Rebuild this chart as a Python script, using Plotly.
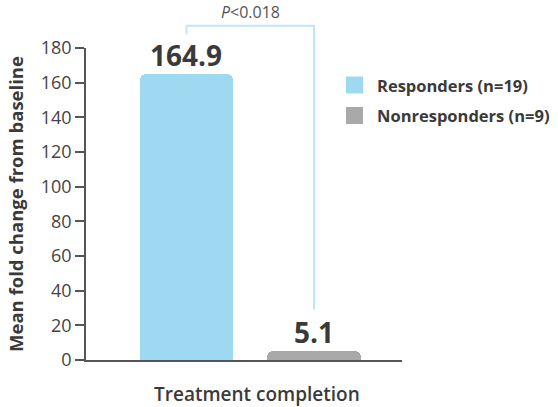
import plotly.graph_objects as go

groups = ["Responders (n=19)", "Nonresponders (n=9)"]
values = [164.9, 5.1]
value_labels = ["164.9", "5.1"]
colors = ["#9dd9f1", "#a9a9a9"]
y_ticks = [0, 20, 40, 60, 80, 100, 120, 140, 160, 180]
p_text = "<i>P</i><0.018"

FONT = "Open Sans"
TXT = "#3a3a3a"
Y_MAX = 180
X_RANGE = [-0.788, 1.69]
W, H = 558, 407
M = dict(l=86, r=156, t=48, b=47)
PLOT_W = W - M["l"] - M["r"]
PLOT_H = H - M["t"] - M["b"]

fig = go.Figure()
for i, (name, val, lab, col) in enumerate(zip(groups, values, value_labels, colors)):
    fig.add_trace(go.Bar(
        x=[i], y=[val], name=name, width=0.73, showlegend=False,
        marker=dict(color=col, cornerradius=6, line=dict(width=0)),
    ))
    # value label sitting just above the bar
    fig.add_annotation(
        x=i, y=val, xref="x", yref="y", text=lab, showarrow=False,
        yanchor="bottom", yshift=-2,
        font=dict(family=FONT, size=28, color=TXT, weight="bold"),
    )


def xdom(v):
    return (v - X_RANGE[0]) / (X_RANGE[1] - X_RANGE[0])


# significance bracket between the two bars (paper refs so it is not clipped)
bracket_top = values[0] + 28
fig.add_shape(
    type="path", xref="x domain", yref="paper",
    path=(f"M {xdom(0)},{(values[0] + 23) / Y_MAX} L {xdom(0)},{bracket_top / Y_MAX} "
          f"L {xdom(1)},{bracket_top / Y_MAX} L {xdom(1)},{(values[1] + 24) / Y_MAX}"),
    line=dict(color="#bde9f5", width=2),
)
fig.add_annotation(
    x=xdom(0.5), y=bracket_top / Y_MAX, xref="x domain", yref="paper", text=p_text,
    showarrow=False, yanchor="bottom", yshift=1,
    font=dict(family=FONT, size=16, color="#555"),
)
fig.add_annotation(
    x=xdom(0.55), y=-0.11, xref="x domain", yref="paper", text="Treatment completion",
    showarrow=False, yanchor="middle",
    font=dict(family=FONT, size=19, color=TXT, weight=600),
)

# hand-made legend (larger swatches than plotly's bar legend)
LEG_X, LEG_Y, LEG_STEP, SW = 346, 85, 30.5, 17
for k, (name, col) in enumerate(zip(groups, colors)):
    cy = LEG_Y + k * LEG_STEP
    x0 = (LEG_X - M["l"]) / PLOT_W
    x1 = (LEG_X + SW - M["l"]) / PLOT_W
    y0 = (H - M["b"] - (cy + SW / 2)) / PLOT_H
    y1 = (H - M["b"] - (cy - SW / 2)) / PLOT_H
    fig.add_shape(type="rect", xref="paper", yref="paper", x0=x0, x1=x1, y0=y0, y1=y1,
                  fillcolor=col, line=dict(width=0))
    fig.add_annotation(
        x=(LEG_X + SW + 12 - M["l"]) / PLOT_W, y=(H - M["b"] - cy) / PLOT_H,
        xref="paper", yref="paper", text=name, showarrow=False,
        xanchor="left", yanchor="middle",
        font=dict(family=FONT, size=16.5, color=TXT, weight="bold"),
    )

fig.update_layout(
    width=W, height=H, margin=M,
    paper_bgcolor="white", plot_bgcolor="white",
    barmode="overlay", bargap=0,
    showlegend=False,
    xaxis=dict(
        range=X_RANGE, showticklabels=False, ticks="",
        showline=True, linecolor="#555", linewidth=1.5,
        showgrid=False, zeroline=False, fixedrange=True,
    ),
    yaxis=dict(
        range=[0, Y_MAX], tickvals=y_ticks, ticks="outside", ticklen=9,
        tickcolor="#555", tickwidth=1.5,
        showline=True, linecolor="#555", linewidth=1.5,
        showgrid=False, zeroline=False,
        tickfont=dict(family=FONT, size=18, color="#444"),
        title=dict(text="Mean fold change from baseline", standoff=12,
                   font=dict(family=FONT, size=18.5, color=TXT, weight="bold")),
    ),
)

# drop the browser's default body margin so the figure fills the window
fig.write_html("out.html", config={"displayModeBar": False},
               post_script="document.body.style.margin='0';")
